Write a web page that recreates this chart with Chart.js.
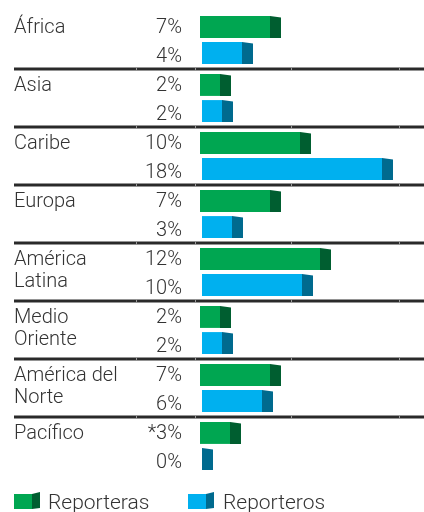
<!DOCTYPE html>
<html><head><meta charset="utf-8">
<script src="https://cdn.jsdelivr.net/npm/chart.js@4/dist/chart.umd.min.js"></script>
<style>html,body{margin:0;padding:0;background:#fff;}canvas{display:block;}</style>
</head><body>
<canvas id="c" width="424" height="512"></canvas>
<script>
const regions = [["África"],["Asia"],["Caribe"],["Europa"],["América","Latina"],["Medio","Oriente"],["América del","Norte"],["Pacífico"]];
const reporteras = [7,2,10,7,12,2,7,3];
const reporteros = [4,2,18,3,10,2,6,0];
const reporterasLabels = ["7%","2%","10%","7%","12%","2%","7%","*3%"];
const reporterosLabels = ["4%","2%","18%","3%","10%","2%","6%","0%"];
const seriesNames = ["Reporteras","Reporteros"];

const GREEN="#00a651", GREEN_D="#005e30", BLUE="#00b0ef", BLUE_D="#006a8e";
const FONT = '300 20px Roboto';
const TEXT = '#333333';

const deco = {
  id:'deco',
  beforeDatasetDraw(chart,args){ if(args.index===1){chart.ctx.save();chart.ctx.translate(2,0);} },
  afterDatasetDraw(chart,args){ if(args.index===1){chart.ctx.restore();} },
  afterDatasetsDraw(chart){
    const ctx=chart.ctx;
    [0,1].forEach(di=>{
      const meta=chart.getDatasetMeta(di);
      const dx = di===1?2:0;
      meta.data.forEach(bar=>{
        const h=bar.height, top=bar.y-h/2, bot=bar.y+h/2, x=bar.x+dx;
        ctx.fillStyle = di===0?GREEN_D:BLUE_D;
        ctx.beginPath();
        ctx.moveTo(x,top); ctx.lineTo(x+11,top+1.5); ctx.lineTo(x+11,bot); ctx.lineTo(x,bot);
        ctx.closePath(); ctx.fill();
      });
    });
  },
  afterDraw(chart){
    const ctx=chart.ctx, y=chart.scales.y, a=chart.chartArea;
    const n=regions.length, step=(a.bottom-a.top)/n;
    ctx.save();
    ctx.font=FONT; ctx.fillStyle=TEXT; ctx.textBaseline='middle';
    for(let i=0;i<n;i++){
      const gt=y.getPixelForValue(i)-step/2;
      ctx.textAlign='left';
      regions[i].forEach((l,k)=>ctx.fillText(l,14,gt+17+k*22));
      ctx.textAlign='right';
      ctx.fillText(reporterasLabels[i],182,gt+17);
      ctx.fillText(reporterosLabels[i],182,gt+46);
      if(i<n-1){
        const ly=Math.round(gt+step);
        ctx.fillStyle='#2a2a2a';
        ctx.fillRect(14,ly-1.5,410,3);
        ctx.fillStyle='#9a9a9a';
        [136,195,291,399].forEach(tx=>ctx.fillRect(tx,ly-1.5,1,3));
        ctx.fillStyle=TEXT;
      }
    }
    // legend
    const ly=501;
    const icon=(x,c,cd)=>{
      ctx.fillStyle=c; ctx.fillRect(x,ly-7,18,15);
      ctx.fillStyle=cd; ctx.beginPath();
      ctx.moveTo(x+18,ly-7); ctx.lineTo(x+26,ly-9); ctx.lineTo(x+26,ly+7); ctx.lineTo(x+18,ly+8); ctx.closePath(); ctx.fill();
    };
    icon(14,GREEN,GREEN_D);
    icon(188,BLUE,BLUE_D);
    ctx.font='300 21px Roboto'; ctx.fillStyle=TEXT; ctx.textAlign='left';
    ctx.fillText(seriesNames[0],48,ly+3);
    ctx.fillText(seriesNames[1],223,ly+3);
    ctx.restore();
  }
};

new Chart(document.getElementById('c'),{
  type:'bar',
  data:{
    labels:regions.map(r=>r.join(' ')),
    datasets:[
      {label:seriesNames[0],data:reporteras,backgroundColor:GREEN,borderWidth:0,categoryPercentage:0.9,barPercentage:0.84},
      {label:seriesNames[1],data:reporteros,backgroundColor:BLUE,borderWidth:0,categoryPercentage:0.9,barPercentage:0.84}
    ]
  },
  options:{
    indexAxis:'y',
    responsive:false,
    animation:false,
    devicePixelRatio:1,
    layout:{padding:{left:200,right:4,top:11,bottom:37}},
    scales:{
      x:{display:false,min:0,max:22},
      y:{display:false}
    },
    plugins:{legend:{display:false},tooltip:{enabled:false}}
  },
  plugins:[deco]
});
</script>
</body></html>
